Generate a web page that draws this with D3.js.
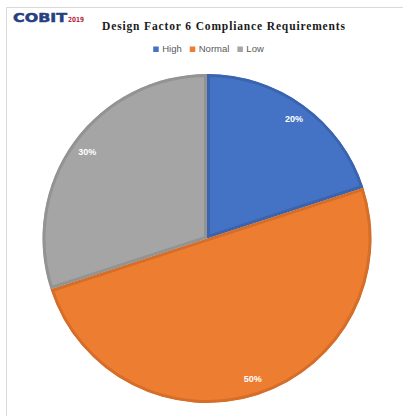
<!DOCTYPE html>
<html>
<head>
<meta charset="utf-8">
<script src="https://cdn.jsdelivr.net/npm/d3@7/dist/d3.min.js"></script>
<style>
  html, body { margin: 0; padding: 0; background: #ffffff; }
  svg { display: block; }
</style>
</head>
<body>
<script>
// Compliance requirement shares for design factor 6
const categories = ["High", "Normal", "Low"];
const shares = [20, 50, 30];
const sliceColors = ["#4472C4", "#ED7D31", "#A5A5A5"];
const edgeColors = ["#3A64B0", "#D56E29", "#939393"];

const W = 403, H = 416;
const svg = d3.select("body").append("svg")
  .attr("width", W).attr("height", H);

svg.append("rect").attr("width", W).attr("height", H).attr("fill", "#ffffff");

// light frame along the top and left edges
svg.append("line").attr("x1", 6).attr("x2", W).attr("y1", 7.5).attr("y2", 7.5)
  .attr("stroke", "#d9d9d9").attr("stroke-width", 1);
svg.append("line").attr("x1", 6.5).attr("x2", 6.5).attr("y1", 7).attr("y2", H)
  .attr("stroke", "#d9d9d9").attr("stroke-width", 1);

// logo
svg.append("text")
  .attr("x", 13).attr("y", 21.5)
  .attr("textLength", 54).attr("lengthAdjust", "spacingAndGlyphs")
  .style("font-family", "'DejaVu Sans', sans-serif")
  .style("font-weight", "bold").style("font-size", "12.5px")
  .attr("fill", "#27407f")
  .attr("stroke", "#27407f").attr("stroke-width", 0.5)
  .text("COBIT");
svg.append("text")
  .attr("x", 68).attr("y", 21.5)
  .attr("textLength", 16).attr("lengthAdjust", "spacingAndGlyphs")
  .style("font-family", "'DejaVu Sans', sans-serif")
  .style("font-weight", "bold").style("font-size", "7px")
  .attr("fill", "#b8283c")
  .text("2019");

// title
svg.append("text")
  .attr("x", 102).attr("y", 29.5)
  .attr("textLength", 243).attr("lengthAdjust", "spacing")
  .style("font-family", "'Liberation Serif', 'Times New Roman', serif")
  .style("font-weight", "bold").style("font-size", "11.5px")
  .attr("fill", "#1a1a1a")
  .text("Design Factor 6 Compliance Requirements");

// legend, laid out left to right and centred
const legend = svg.append("g");
let lx = 0;
categories.forEach((c, i) => {
  const g = legend.append("g").attr("transform", `translate(${lx},0)`);
  g.append("rect").attr("x", 0).attr("y", -5.5).attr("width", 5.5).attr("height", 5.5)
    .attr("fill", sliceColors[i]);
  const t = g.append("text").attr("x", 9).attr("y", 0)
    .style("font-family", "'Liberation Sans', Arial, sans-serif")
    .style("font-size", "9.5px").attr("fill", "#595959")
    .text(c);
  lx += 9 + t.node().getComputedTextLength() + 8;
});
const legendW = lx - 8;
legend.attr("transform", `translate(${208.5 - legendW / 2},52)`);

// pie, starting at 12 o'clock and running clockwise
const cx = 207, cy = 238.5, R = 164.5;
const pie = d3.pie().sort(null).value(d => d)
  .startAngle(0).endAngle(2 * Math.PI);
const arcs = pie(shares);
const arc = d3.arc().innerRadius(0).outerRadius(R);
const labelArc = d3.arc().innerRadius(R * 0.9).outerRadius(R * 0.9);

const defs = svg.append("defs");
const gp = svg.append("g").attr("transform", `translate(${cx},${cy})`);

// each slice clips its own outline so the darker edge sits inside the slice
arcs.forEach((a, i) => {
  defs.append("clipPath").attr("id", "slice-clip-" + i)
    .append("path").attr("d", arc(a));
});

gp.selectAll("path.slice")
  .data(arcs)
  .join("path")
  .attr("class", "slice")
  .attr("d", arc)
  .attr("fill", (d, i) => sliceColors[i])
  .attr("stroke", (d, i) => edgeColors[i])
  .attr("stroke-width", 6)
  .attr("clip-path", (d, i) => `url(#slice-clip-${i})`);

gp.selectAll("text.pct")
  .data(arcs)
  .join("text")
  .attr("class", "pct")
  .attr("transform", d => `translate(${labelArc.centroid(d)})`)
  .attr("text-anchor", "middle")
  .attr("dy", "0.35em")
  .style("font-family", "'Liberation Sans', Arial, sans-serif")
  .style("font-weight", "bold").style("font-size", "9px")
  .attr("fill", "#ffffff")
  .text(d => d.data + "%");
</script>
</body>
</html>
